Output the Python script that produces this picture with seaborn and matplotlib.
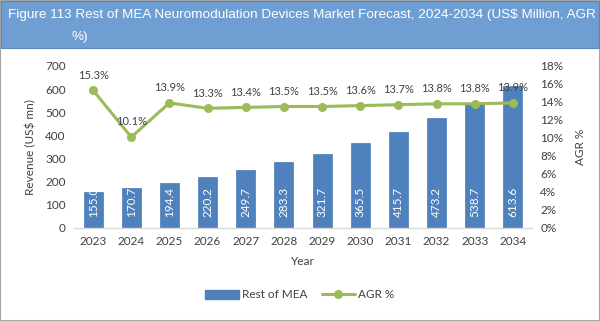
import matplotlib
matplotlib.use("Agg")
import matplotlib.pyplot as plt
import seaborn as sns
import pandas as pd
from matplotlib.patches import Rectangle
from matplotlib.lines import Line2D
from matplotlib.patches import Patch

years = ["2023", "2024", "2025", "2026", "2027", "2028", "2029", "2030", "2031", "2032", "2033", "2034"]
revenue = [155.0, 170.7, 194.4, 220.2, 249.7, 283.3, 321.7, 365.5, 415.7, 473.2, 538.7, 613.6]
agr = [15.3, 10.1, 13.9, 13.3, 13.4, 13.5, 13.5, 13.6, 13.7, 13.8, 13.8, 13.9]

df = pd.DataFrame({"Year": years, "Revenue": revenue, "AGR": agr})

sns.set_theme(style="white")
plt.rcParams['font.family'] = ['Lato', 'DejaVu Sans']

W, H = 600, 321
fig = plt.figure(figsize=(6, 3.21), dpi=100)

# figure border and title banner
fig.patches.append(Rectangle((0, 0), 1, 1, transform=fig.transFigure, fill=False,
                             edgecolor="#A6A6A6", linewidth=1.5))
fig.patches.append(Rectangle((0.002, 1 - 48 / H), 0.996, 48 / H - 0.003, transform=fig.transFigure,
                             facecolor="#6F9FD2", edgecolor="#5B87B8", linewidth=0.8))
fig.text(8 / W, 1 - 15 / H, "Figure 113 Rest of MEA Neuromodulation Devices Market Forecast, 2024-2034 (US$ Million, AGR",
         color="white", fontsize=9.7, family=['Liberation Sans'], va="center", ha="left")
fig.text(72 / W, 1 - 37 / H, "%)", color="white", fontsize=9.7, family=['Liberation Sans'],
         va="center", ha="left")

left, right, top, bottom = 74, 532, 66, 228
ax = fig.add_axes([left / W, 1 - bottom / H, (right - left) / W, (bottom - top) / H])

bar_color = "#4F81BD"
line_color = "#9BBB59"
sns.barplot(data=df, x="Year", y="Revenue", color=bar_color, width=0.5, ax=ax,
            saturation=1, edgecolor="#4A7AB5", linewidth=0.5)
ax.set_ylim(0, 700)
ax.set_xlim(-0.5, 11.5)
ax.set_yticks(range(0, 701, 100))
ax.tick_params(axis="both", labelsize=8.5, colors="#404040", length=0, pad=6)
ax.set_ylabel("Revenue (US$ mn)", fontsize=8.5, color="#404040", labelpad=6)
ax.set_xlabel("Year", fontsize=8.5, color="#404040", labelpad=6)
for s in ["top", "right", "left"]:
    ax.spines[s].set_visible(False)
ax.spines["bottom"].set_color("#D9D9D9")
ax.spines["bottom"].set_linewidth(1)

for i, v in enumerate(revenue):
    ax.annotate(f"{v:.1f}", (i, 0), xytext=(0, 8), textcoords="offset points",
                rotation=90, ha="center", va="bottom", color="white", fontsize=8.5)

ax2 = ax.twinx()
sns.lineplot(x=list(range(len(years))), y=agr, ax=ax2, color=line_color, linewidth=2.2,
             marker="o", markersize=6.5, markeredgewidth=0)
ax2.set_ylim(0, 18)
ax2.set_yticks(range(0, 19, 2))
ax2.set_yticklabels([f"{t}%" for t in range(0, 19, 2)])
ax2.tick_params(axis="y", labelsize=8.5, colors="#404040", length=0, pad=6)
ax2.set_ylabel("AGR %", fontsize=8.5, color="#404040", labelpad=8)
for s in ["top", "right", "left", "bottom"]:
    ax2.spines[s].set_visible(False)
ax2.set_xlim(-0.5, 11.5)
for i, v in enumerate(agr):
    ax2.annotate(f"{v:.1f}%", (i, v), xytext=(0, 7), textcoords="offset points",
                 ha="center", va="bottom", color="#404040", fontsize=8)

handles = [Patch(facecolor=bar_color, edgecolor=bar_color),
           Line2D([0], [0], color=line_color, lw=2.2, marker="o", markersize=6.5, markeredgewidth=0)]
fig.legend(handles, ["Rest of MEA", "AGR %"], loc="center", bbox_to_anchor=(300 / W, 1 - 295 / H),
           ncol=2, frameon=False, fontsize=8.5, handlelength=2.8, columnspacing=1.2,
           handletextpad=0.3, labelcolor="#404040")

fig.savefig("out.png", dpi=100)
